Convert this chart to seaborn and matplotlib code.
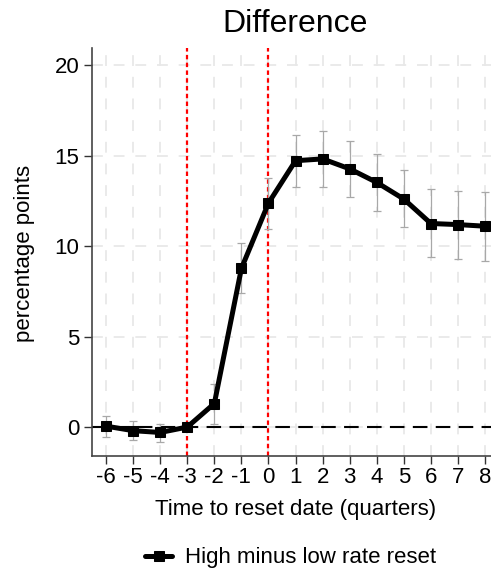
import matplotlib
matplotlib.use("Agg")
import matplotlib.pyplot as plt
import seaborn as sns
import pandas as pd

quarters = [-6, -5, -4, -3, -2, -1, 0, 1, 2, 3, 4, 5, 6, 7, 8]
diff = [0.05, -0.2, -0.3, 0.0, 1.3, 8.77, 12.38, 14.72, 14.82, 14.27, 13.52, 12.6, 11.25, 11.19, 11.1]
ci_low = [-0.53, -0.71, -0.82, -0.05, 0.16, 7.43, 10.97, 13.26, 13.28, 12.69, 11.96, 11.03, 9.41, 9.3, 9.19]
ci_high = [0.6, 0.31, 0.15, 0.05, 2.36, 10.15, 13.79, 16.13, 16.39, 15.82, 15.09, 14.19, 13.13, 13.04, 13.0]
event_lines = [-3, 0]
yticks = [0, 5, 10, 15, 20]
series_label = "High minus low rate reset"

sns.set_theme(style="white")
plt.rcParams['font.family'] = ['Liberation Sans', 'DejaVu Sans']
plt.rcParams['text.color'] = 'black'
plt.rcParams['axes.labelcolor'] = 'black'
plt.rcParams['xtick.labelcolor'] = 'black'
plt.rcParams['ytick.labelcolor'] = 'black'

df = pd.DataFrame({"q": quarters, "d": diff, "lo": ci_low, "hi": ci_high})

fig = plt.figure(figsize=(4.91, 5.71), dpi=100)
ax = fig.add_axes([92/491, 1 - 456/571, 1 - 92/491, (456 - 48)/571])

# grid
for q in quarters:
    ax.axvline(q, color="#e8e8e8", lw=1.3, ls=(0, (6, 6)), zorder=0)
for t in yticks:
    ax.axhline(t, color="#e8e8e8", lw=1.3, ls=(0, (6, 6)), zorder=0)

# error bars
yerr = [df["d"] - df["lo"], df["hi"] - df["d"]]
ax.errorbar(df["q"], df["d"], yerr=yerr, fmt="none", ecolor="#a8a8a8",
            elinewidth=0.9, capsize=3, capthick=0.9, zorder=2)

ax.axhline(0, color="black", lw=1.5, ls=(0, (7, 4)), zorder=1)
for v in event_lines:
    ax.axvline(v, color="#ff0000", lw=1.6, ls=(0, (2, 1.5)), zorder=1)

sns.lineplot(data=df, x="q", y="d", ax=ax, color="black", lw=3.6,
             marker="s", markersize=7, markeredgecolor="black",
             label=series_label, zorder=3, legend=False)

ax.set_xlim(-6.52, 8.22)
ax.set_ylim(-1.6, 20.95)
ax.set_xticks(quarters)
ax.set_xticklabels([str(q) for q in quarters])
ax.set_yticks(yticks)
ax.set_yticklabels([str(t) for t in yticks])
ax.tick_params(axis="both", which="major", labelsize=16, length=6, width=1,
               color="#333333", labelcolor="black", direction="out", pad=3,
               left=True, bottom=True)
ax.tick_params(axis="x", pad=2)

for s in ["top", "right"]:
    ax.spines[s].set_visible(False)
for s in ["left", "bottom"]:
    ax.spines[s].set_color("#444444")
    ax.spines[s].set_linewidth(1.2)

ax.set_xlabel("Time to reset date (quarters)", fontsize=16, va="center", color="black")
ax.xaxis.set_label_coords((296 - 92) / 399, -(510 - 456) / 408)
ax.set_ylabel("percentage points", fontsize=16, va="center", color="black")
ax.yaxis.set_label_coords((25 - 92) / 399, (456 - 253) / 408)
fig.text(295/491, 1 - 24/571, "Difference", fontsize=23, ha="center", va="center",
         color="black")

handles, labels = ax.get_legend_handles_labels()
leg = fig.legend(handles, labels, loc="center", bbox_to_anchor=(291/491, 1 - 558/571),
                 frameon=False, fontsize=16, handlelength=1.2, handletextpad=0.6,
                 borderpad=0, borderaxespad=0)
for t in leg.get_texts():
    t.set_color("black")

fig.savefig("out.png", dpi=100)
